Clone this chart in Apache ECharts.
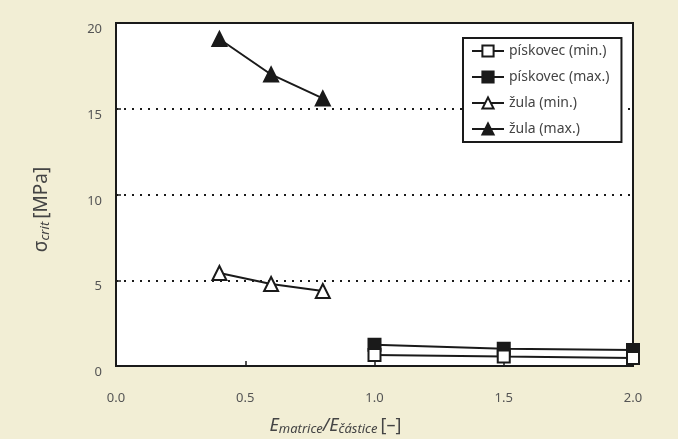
<!DOCTYPE html>
<html>
<head>
<meta charset="utf-8">
<script src="https://cdn.jsdelivr.net/npm/echarts@6/dist/echarts.min.js"></script>
<style>
html,body{margin:0;padding:0;background:#f2eed5;}
#c{width:678px;height:439px;}
</style>
</head>
<body>
<div id="c"></div>
<script>
const seriesNames = ['pískovec (min.)', 'pískovec (max.)', 'žula (min.)', 'žula (max.)'];
const pisX = [1.0, 1.5, 2.0];
const pisMin = [0.64, 0.55, 0.47];
const pisMax = [1.24, 1.0, 0.93];
const zulaX = [0.4, 0.6, 0.8];
const zulaMin = [5.42, 4.78, 4.37];
const zulaMax = [19.07, 17.0, 15.6];
const xTicks = [0.0, 0.5, 1.0, 1.5, 2.0];
const yTicks = [0, 5, 10, 15, 20];

const pair = (xs, ys) => xs.map((x, i) => [x, ys[i]]);
const FONT = 'Noto Sans';
const chart = echarts.init(document.getElementById('c'));

function mk(name, data, symbol, filled, size) {
  return {
    name, type: 'line', data, symbol, symbolSize: size,
    lineStyle: { color: '#1a1a1a', width: 2 },
    itemStyle: { color: filled ? '#1a1a1a' : '#ffffff', borderColor: '#1a1a1a', borderWidth: 2 },
    z: filled ? 3 : 4
  };
}

chart.setOption({
  backgroundColor: '#f2eed5',
  animation: false,
  textStyle: { fontFamily: FONT },
  grid: { left: 116, right: 45, top: 23, bottom: 73, outerBoundsMode: 'none', containLabel: false, show: true, backgroundColor: '#ffffff', borderColor: '#1a1a1a', borderWidth: 2 },
  legend: {
    orient: 'vertical', left: 463, top: 38, width: 160,
    padding: [6, 12, 6, 8], itemGap: 12, itemWidth: 32, itemHeight: 14,
    borderColor: '#1a1a1a', borderWidth: 2, backgroundColor: '#ffffff',
    textStyle: { fontFamily: FONT, fontSize: 14, color: '#444' },
    data: seriesNames
  },
  xAxis: {
    type: 'value', min: 0, max: 2, interval: 0.5,
    axisLine: { show: true, lineStyle: { color: '#1a1a1a', width: 2 } },
    axisTick: { show: true, inside: true, length: 5, lineStyle: { color: '#1a1a1a', width: 1.5 } },
    splitLine: { show: false },
    axisLabel: { margin: 26, fontSize: 13, color: '#555', fontFamily: FONT, formatter: v => { const t = xTicks.find(k => Math.abs(k - v) < 1e-9); return t !== undefined ? t.toFixed(1) : ''; } },
    name: '{i|E}{s|matrice}{i|/E}{s|částice} {n|[–]}',
    nameLocation: 'middle', nameGap: 50,
    nameTextStyle: {
      padding: [0, 78, 0, 0],
      rich: {
        i: { fontSize: 18, fontStyle: 'italic', color: '#444', fontFamily: FONT },
        s: { fontSize: 13, fontStyle: 'italic', color: '#444', fontFamily: FONT, padding: [7, 0, 0, 0] },
        n: { fontSize: 18, color: '#444', fontFamily: FONT }
      }
    }
  },
  yAxis: {
    type: 'value', min: 0, max: 20, interval: 5,
    axisLine: { show: true, lineStyle: { color: '#1a1a1a', width: 2 } },
    axisTick: { show: true, inside: true, length: 5, lineStyle: { color: '#1a1a1a', width: 1.5 } },
    splitLine: { show: true, lineStyle: { color: '#1a1a1a', width: 2, type: [2, 6] } },
    axisLabel: { margin: 14, fontSize: 13, color: '#555', fontFamily: FONT, verticalAlign: 'top', formatter: v => yTicks.includes(v) ? String(v) : '' },
    name: '{g|σ}{s|crit} {n|[MPa]}',
    nameLocation: 'middle', nameGap: 64,
    nameTextStyle: {
      padding: [0, 30, 0, 0],
      rich: {
        g: { fontSize: 19, color: '#444', fontFamily: FONT },
        s: { fontSize: 13, fontStyle: 'italic', color: '#444', fontFamily: FONT, padding: [7, 0, 0, 0] },
        n: { fontSize: 19, color: '#444', fontFamily: FONT }
      }
    }
  },
  series: [
    mk(seriesNames[0], pair(pisX, pisMin), 'rect', false, 12),
    mk(seriesNames[1], pair(pisX, pisMax), 'rect', true, 12),
    mk(seriesNames[2], pair(zulaX, zulaMin), 'triangle', false, 14),
    mk(seriesNames[3], pair(zulaX, zulaMax), 'triangle', true, 14)
  ]
});
</script>
</body>
</html>
